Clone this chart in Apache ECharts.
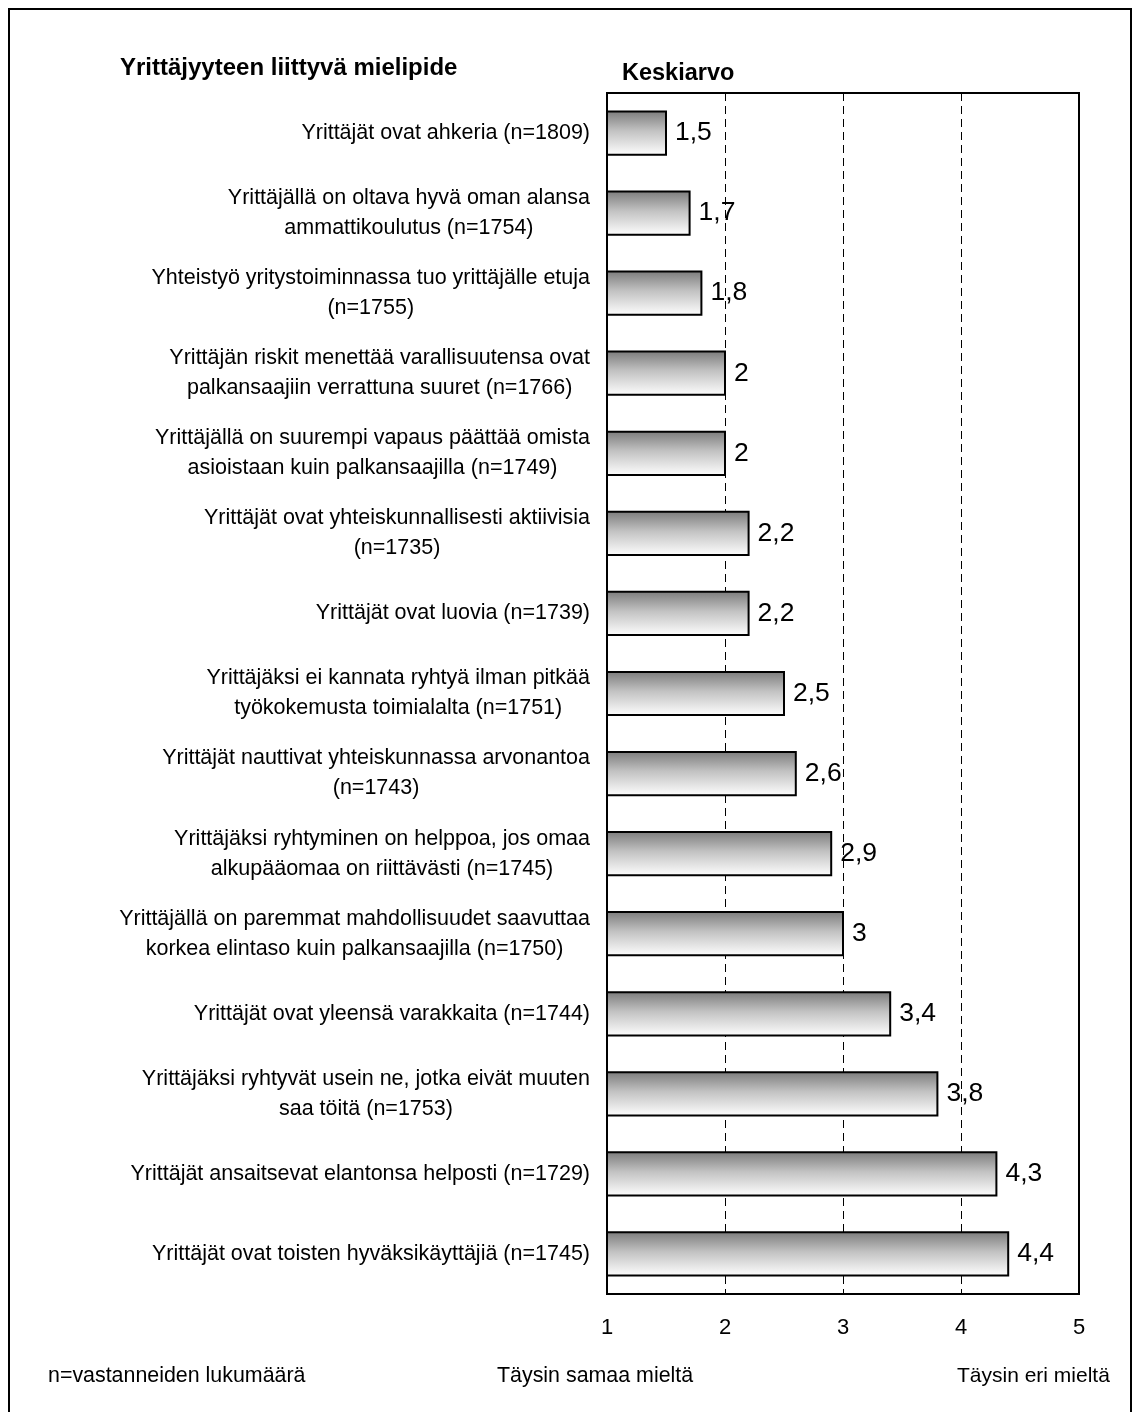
<!DOCTYPE html>
<html>
<head>
<meta charset="utf-8">
<script src="https://cdn.jsdelivr.net/npm/echarts@6/dist/echarts.min.js"></script>
<style>
  html, body { margin: 0; padding: 0; background: #ffffff; }
  #chart { width: 1133px; height: 1412px; }
</style>
</head>
<body>
<div id="chart"></div>
<script>
// Survey statements (top to bottom) and their mean scores on a 1–5 scale
const statements = [
  'Yrittäjät ovat ahkeria (n=1809)',
  'Yrittäjällä on oltava hyvä oman alansa\nammattikoulutus (n=1754)',
  'Yhteistyö yritystoiminnassa tuo yrittäjälle etuja\n(n=1755)',
  'Yrittäjän riskit menettää varallisuutensa ovat\npalkansaajiin verrattuna suuret (n=1766)',
  'Yrittäjällä on suurempi vapaus päättää omista\nasioistaan kuin palkansaajilla (n=1749)',
  'Yrittäjät ovat yhteiskunnallisesti aktiivisia\n(n=1735)',
  'Yrittäjät ovat luovia (n=1739)',
  'Yrittäjäksi ei kannata ryhtyä ilman pitkää\ntyökokemusta toimialalta (n=1751)',
  'Yrittäjät nauttivat yhteiskunnassa arvonantoa\n(n=1743)',
  'Yrittäjäksi ryhtyminen on helppoa, jos omaa\nalkupääomaa on riittävästi (n=1745)',
  'Yrittäjällä on paremmat mahdollisuudet saavuttaa\nkorkea elintaso kuin palkansaajilla (n=1750)',
  'Yrittäjät ovat yleensä varakkaita (n=1744)',
  'Yrittäjäksi ryhtyvät usein ne, jotka eivät muuten\nsaa töitä (n=1753)',
  'Yrittäjät ansaitsevat elantonsa helposti (n=1729)',
  'Yrittäjät ovat toisten hyväksikäyttäjiä (n=1745)'
];
const meanScores = [1.5, 1.7, 1.8, 2, 2, 2.2, 2.2, 2.5, 2.6, 2.9, 3, 3.4, 3.8, 4.3, 4.4];
const scaleTicks = [1, 2, 3, 4, 5];

const FONT = "'Liberation Sans', Arial, Helvetica, sans-serif";
const fmtFi = v => String(v).replace('.', ',');

const chart = echarts.init(document.getElementById('chart'), null, { renderer: 'canvas' });

const plainText = size => ({ fontFamily: FONT, fontSize: size, fontWeight: 'normal', color: '#000' });
const boldText = size => ({ fontFamily: FONT, fontSize: size, fontWeight: 'bold', color: '#000' });

chart.setOption({
  animation: false,
  backgroundColor: '#ffffff',
  textStyle: { fontFamily: FONT, color: '#000' },
  graphic: [
    {
      // outer frame (open at the bottom edge of the page)
      type: 'rect',
      shape: { x: 9, y: 9, width: 1122, height: 1500 },
      style: { fill: 'none', stroke: '#000', lineWidth: 2 },
      silent: true
    }
  ],
  title: [
    { text: 'Yrittäjyyteen liittyvä mielipide', left: 120, top: 56, padding: 0, textStyle: boldText(24) },
    { text: 'Keskiarvo', left: 622, top: 62, padding: 0, textStyle: boldText(23.5) },
    { text: 'n=vastanneiden lukumäärä', left: 48, top: 1366, padding: 0, textStyle: plainText(21.4) },
    { text: 'Täysin samaa mieltä', left: 497, top: 1366, padding: 0, textStyle: plainText(21.4) },
    { text: 'Täysin eri mieltä', left: 957, top: 1366, padding: 0, textStyle: plainText(21) }
  ],
  grid: {
    left: 607, right: 54, top: 93, height: 1201,
    show: true, borderColor: '#000', borderWidth: 2, backgroundColor: 'transparent',
    containLabel: false
  },
  xAxis: {
    type: 'value',
    min: scaleTicks[0], max: scaleTicks[scaleTicks.length - 1], interval: 1,
    axisLine: { show: true, lineStyle: { color: '#000', width: 2 } },
    axisTick: { show: false },
    axisLabel: {
      margin: 23, fontSize: 22, color: '#000', fontFamily: FONT,
      formatter: v => scaleTicks.includes(v) ? String(v) : ''
    },
    splitLine: { show: true, lineStyle: { color: '#000', width: 1, type: [8, 5] } }
  },
  yAxis: {
    type: 'category',
    data: statements,
    inverse: true,
    axisLine: { show: true, lineStyle: { color: '#000', width: 2 } },
    axisTick: { show: false },
    splitLine: { show: false },
    axisLabel: {
      margin: 17, align: 'right', color: '#000', fontFamily: FONT, fontSize: 21.5,
      lineHeight: 30,
      formatter: s => s.split('\n').map(line => '{c|' + line + '}').join('\n'),
      rich: { c: { align: 'center', fontSize: 21.5, lineHeight: 30, fontFamily: FONT, color: '#000' } }
    }
  },
  series: [
    {
      type: 'custom',
      coordinateSystem: 'cartesian2d',
      encode: { x: 0, y: 1 },
      data: meanScores.map((v, i) => [v, i]),
      renderItem(params, api) {
        const v = api.value(0);
        const idx = api.value(1);
        const start = api.coord([scaleTicks[0], idx]);
        const end = api.coord([v, idx]);
        const h = api.size([0, 1])[1] * 0.54;
        return {
          type: 'group',
          children: [
            {
              type: 'rect',
              shape: { x: start[0], y: start[1] - h / 2, width: end[0] - start[0], height: h },
              style: {
                fill: new echarts.graphic.LinearGradient(0, 0, 0, 1, [
                  { offset: 0, color: '#7a7a7a' },
                  { offset: 0.45, color: '#c2c2c2' },
                  { offset: 1, color: '#ffffff' }
                ]),
                stroke: '#000', lineWidth: 2
              }
            },
            {
              type: 'text',
              style: {
                text: fmtFi(v),
                x: end[0] + 9, y: end[1],
                align: 'left', verticalAlign: 'middle',
                fontSize: 26.5, fontFamily: FONT, fill: '#000'
              }
            }
          ]
        };
      }
    }
  ]
});
</script>
</body>
</html>
